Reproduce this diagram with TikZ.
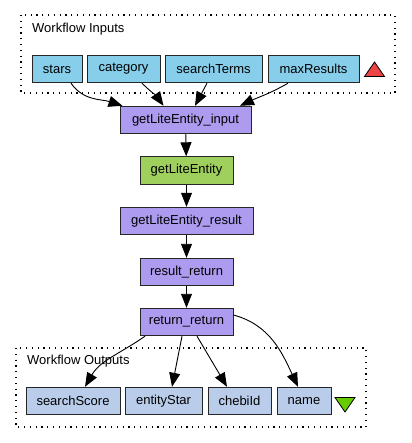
\documentclass[tikz,border=0pt]{standalone}
\usepackage{fontspec}
\setmainfont{Liberation Sans}
\usepackage{tikz}
\usetikzlibrary{arrows.meta}

\definecolor{inpc}{HTML}{87CEEB}
\definecolor{outc}{HTML}{B9CDEA}
\definecolor{procc}{HTML}{AC9BEE}
\definecolor{wsdlc}{HTML}{9FCF5C}
\definecolor{upc}{HTML}{EC4444}
\definecolor{downc}{HTML}{66CC00}

\begin{document}
\begin{tikzpicture}[x=1pt,y=-1pt,
  font=\fontsize{13}{15}\selectfont,
  box/.style={draw=black!85,line width=0.9pt,minimum height=27.5pt,inner sep=1pt},
  inpn/.style={box,fill=inpc},
  outn/.style={box,fill=outc},
  procn/.style={box,fill=procc},
  wsdln/.style={box,fill=wsdlc},
  cluster/.style={line width=1.1pt,dash pattern=on 1.2pt off 4.6pt},
  edge/.style={line width=0.9pt,-{Triangle[length=14pt,width=11pt]}}]
  \useasboundingbox (0,0) rectangle (411,443);
  % inputs
  \draw[cluster] (21,15) rectangle (395,93);
  \node[anchor=west,inner sep=0pt] (inlabel) at (32,29) {Workflow Inputs};
  \node[inpn,minimum width=50pt] (stars) at (57,69) {stars};
  \node[inpn,minimum width=73pt] (category) at (123.5,69) {category};
  \node[inpn,minimum width=97pt] (terms) at (213.5,69) {searchTerms};
  \node[inpn,minimum width=91pt] (maxres) at (313.5,69) {maxResults};
  \draw[line width=0.8pt,fill=upc] (364.5,76.5) -- (384.5,76.5) -- (374.5,62) -- cycle;
  % processors
  \node[procn,minimum width=131pt] (gin) at (185.5,120) {getLiteEntity\_input};
  \node[wsdln,minimum width=93pt] (gle) at (186.5,170.5) {getLiteEntity};
  \node[procn,minimum width=133pt] (gres) at (186.5,221) {getLiteEntity\_result};
  \node[procn,minimum width=93pt] (rr) at (186.5,272) {result\_return};
  \node[procn,minimum width=93pt] (ret) at (186.5,322) {return\_return};
  % outputs
  \draw[cluster] (16,348) rectangle (366,427);
  \node[anchor=west,inner sep=0pt] (outlabel) at (27,361) {Workflow Outputs};
  \node[outn,minimum width=94pt] (score) at (73,401) {searchScore};
  \node[outn,minimum width=77pt] (estar) at (163.5,401) {entityStar};
  \node[outn,minimum width=63pt] (chebi) at (239.5,401) {chebiId};
  \node[outn,minimum width=54pt] (name) at (304,401) {name};
  \draw[line width=0.8pt,fill=downc] (335,397.5) -- (355,397.5) -- (345,412) -- cycle;
  % links
  \draw[edge] ([xshift=14pt]stars.south) to[out=-55,in=162] ([xshift=-63pt]gin.north);
  \draw[edge] ([xshift=18.5pt]category.south) to[out=-45,in=125] ([xshift=-22pt]gin.north);
  \draw[edge] ([xshift=-6.5pt]terms.south) -- ([xshift=9.5pt]gin.north);
  \draw[edge] ([xshift=-25.5pt]maxres.south) to[out=-150,in=25] ([xshift=54.5pt]gin.north);
  \draw[edge] (gin) -- (gle);
  \draw[edge] (gle) -- (gres);
  \draw[edge] (gres) -- (rr);
  \draw[edge] (rr) -- (ret);
  \draw[edge] ([xshift=-41.5pt]ret.south) to[out=-145,in=60] ([xshift=12pt]score.north);
  \draw[edge] ([xshift=-4.5pt]ret.south) -- ([xshift=8.5pt]estar.north);
  \draw[edge] ([xshift=10.5pt]ret.south) -- ([xshift=-12.5pt]chebi.north);
  \draw[edge] ([yshift=7pt]ret.east) to[out=-15,in=115] ([xshift=-6pt]name.north);
\end{tikzpicture}
\end{document}
